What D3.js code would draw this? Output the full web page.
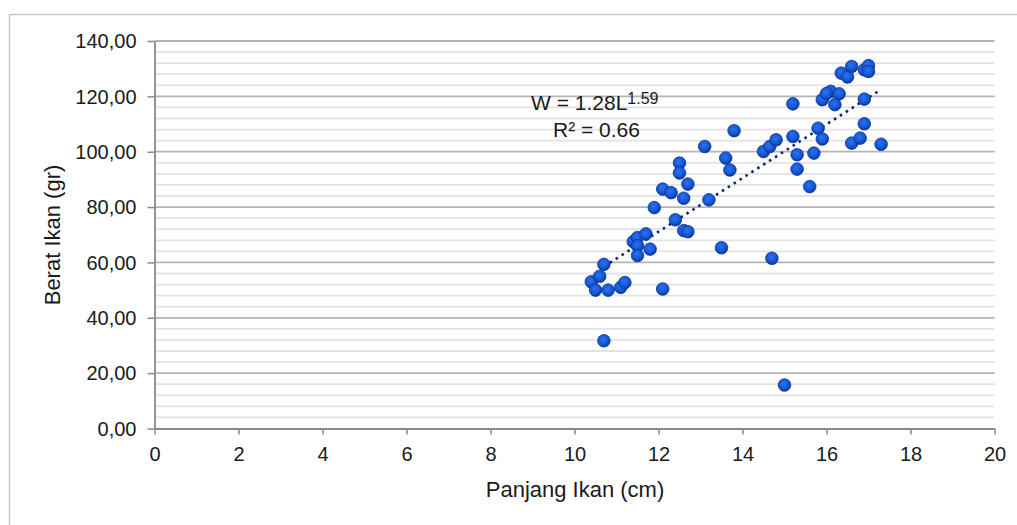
<!DOCTYPE html>
<html><head><meta charset="utf-8">
<script src="https://cdn.jsdelivr.net/npm/d3@7"></script>
<style>html,body{margin:0;padding:0;background:#fff;}svg{display:block;font-family:"Liberation Sans",Arial,sans-serif;}</style>
</head><body>
<script>
const lengths = [10.4,10.5,10.6,10.7,10.7,10.8,11.1,11.2,12.1,11.4,11.5,11.7,11.5,11.5,11.8,11.9,12.4,12.6,12.7,12.1,12.3,12.6,12.7,12.5,12.5,13.2,13.1,13.8,13.6,13.7,13.5,14.7,15.0,14.5,14.65,14.8,15.2,15.2,15.3,15.3,15.6,15.7,15.8,15.9,15.9,16.1,16.3,16.2,16.35,16.5,16.6,16.9,17.0,17.0,16.9,16.9,16.6,16.8,17.3,16.0];
const weights = [53.0,50.0,55.0,59.3,31.7,50.0,51.0,52.7,50.4,67.5,69.0,70.3,66.0,62.5,64.8,79.8,75.4,71.5,71.1,86.5,85.2,83.2,88.3,95.9,92.3,82.6,101.9,107.6,97.7,93.4,65.3,61.5,15.7,100.1,101.9,104.3,117.3,105.5,98.9,93.7,87.4,99.5,108.5,104.6,118.8,121.8,120.9,117.0,128.4,127.0,130.8,129.6,131.1,129.0,119.0,110.1,103.1,104.9,102.7,121.0];
const trendX = [10.7, 17.25];
const trendY = [58.5, 122.0];
const xTicks = [0,2,4,6,8,10,12,14,16,18,20];
const yTicks = [0,20,40,60,80,100,120,140];
const xTitle = "Panjang Ikan (cm)";
const yTitle = "Berat Ikan (gr)";

const W = 1017, H = 525;
const svg = d3.select("body").append("svg").attr("width", W).attr("height", H);
const defs = svg.append("defs");
const grad = defs.append("radialGradient").attr("id","dot").attr("cx","45%").attr("cy","40%").attr("r","60%");
grad.append("stop").attr("offset","0%").attr("stop-color","#2a74f0");
grad.append("stop").attr("offset","65%").attr("stop-color","#1556d4");
grad.append("stop").attr("offset","100%").attr("stop-color","#0a3592");

// outer chart border (left & top visible)
svg.append("line").attr("x1",9.5).attr("x2",W).attr("y1",14.5).attr("y2",14.5).attr("stroke","#c8c8c8").attr("stroke-width",1.5);
svg.append("line").attr("x1",9.5).attr("x2",9.5).attr("y1",14.5).attr("y2",H).attr("stroke","#c8c8c8").attr("stroke-width",1.5);

const x = d3.scaleLinear().domain([0,20]).range([154.5,994.5]);
const y = d3.scaleLinear().domain([0,140]).range([428.5,41]);

// minor gridlines
const minor = d3.range(4,140,4).filter(v => v % 20 !== 0);
svg.append("g").selectAll("line").data(minor).join("line")
  .attr("x1",x(0)).attr("x2",x(20)).attr("y1",d=>y(d)).attr("y2",d=>y(d))
  .attr("stroke","#e2e2e2").attr("stroke-width",1.8);
// major gridlines
svg.append("g").selectAll("line").data(yTicks.filter(v=>v>0)).join("line")
  .attr("x1",x(0)).attr("x2",x(20)).attr("y1",d=>y(d)).attr("y2",d=>y(d))
  .attr("stroke","#b4b4b4").attr("stroke-width",1.8);

// axes
const fmt = d => d.toFixed(2).replace(".", ",");
const yAxis = svg.append("g").attr("transform",`translate(${x(0)},0)`)
  .call(d3.axisLeft(y).tickValues(yTicks).tickFormat(fmt).tickSize(7).tickSizeOuter(0));
const xAxis = svg.append("g").attr("transform",`translate(0,${y(0)})`)
  .call(d3.axisBottom(x).tickValues(xTicks).tickFormat(d3.format("d")).tickSize(6).tickSizeOuter(0));
[yAxis,xAxis].forEach(a=>{
  a.select(".domain").attr("stroke","#8a8a8a").attr("stroke-width",1.8);
  a.selectAll(".tick line").attr("stroke","#8a8a8a").attr("stroke-width",1.5);
  a.selectAll(".tick text").attr("fill","#1a1a1a").style("font-size","20px").style("font-family","'Liberation Sans',Arial,sans-serif");
});
yAxis.selectAll(".tick text").attr("x",-18).attr("dy","0.34em");
xAxis.selectAll(".tick text").attr("y",18).attr("dy","0.71em");

// axis titles
svg.append("text").attr("x",575).attr("y",497).attr("text-anchor","middle")
  .style("font-size","22px").attr("fill","#1a1a1a").text(xTitle);
svg.append("text").attr("transform","translate(60,235) rotate(-90)").attr("text-anchor","middle")
  .style("font-size","22px").attr("fill","#1a1a1a").text(yTitle);

// trendline
svg.append("line").attr("x1",x(trendX[0])).attr("y1",y(trendY[0])).attr("x2",x(trendX[1])).attr("y2",y(trendY[1]))
  .attr("stroke","#0d2a6e").attr("stroke-width",2.6).attr("stroke-dasharray","2.6,4.4").attr("stroke-linecap","butt");

// points
const pts = lengths.map((l,i)=>({l, w: weights[i]}));
svg.append("g").selectAll("circle").data(pts).join("circle")
  .attr("cx",d=>x(d.l)).attr("cy",d=>y(d.w)).attr("r",6.3)
  .attr("fill","url(#dot)").attr("stroke","#0b3a98").attr("stroke-width",0.8);

// equation label
const eq = svg.append("text").attr("x",531).attr("y",110).style("font-size","21px").attr("fill","#1a1a1a");
eq.append("tspan").text("W = 1.28L");
eq.append("tspan").attr("dy",-6).style("font-size","16px").text("1.59");
svg.append("text").attr("x",553).attr("y",137).style("font-size","21px").attr("fill","#1a1a1a").text("R² = 0.66");
</script>
</body></html>
